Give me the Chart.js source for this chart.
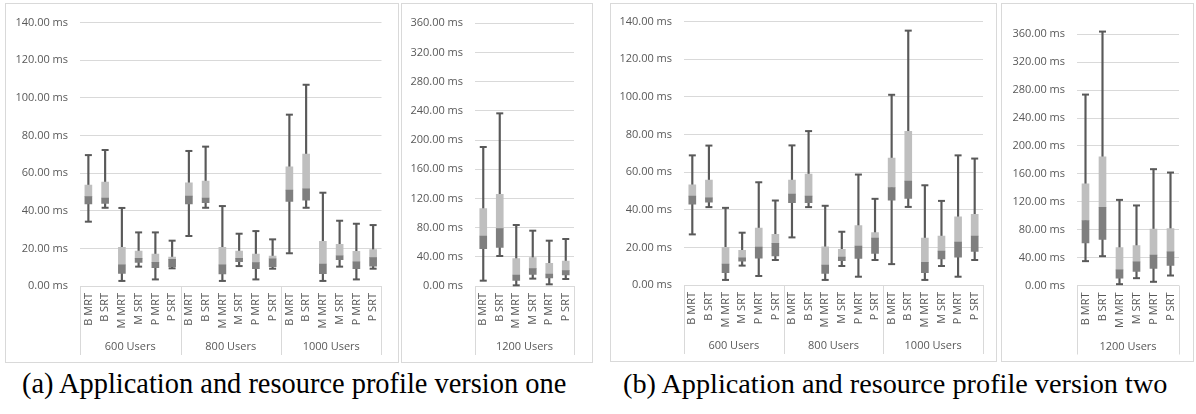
<!DOCTYPE html>
<html><head><meta charset="utf-8">
<script src="https://cdn.jsdelivr.net/npm/chart.js@4.4.1/dist/chart.umd.min.js"></script>
<style>
html,body{margin:0;padding:0;background:#fff;}
body{width:1196px;height:414px;position:relative;overflow:hidden;}
.box{position:absolute;border:1px solid #d9d9d9;box-sizing:border-box;}
canvas{position:absolute;}
.cap{position:absolute;font-family:"Liberation Serif","DejaVu Serif",serif;font-size:24px;line-height:1;color:#000;white-space:nowrap;}
</style></head><body>
<div id="root"></div>
<div class="cap" id="capA">(a) Application and resource profile version one</div>
<div class="cap" id="capB">(b) Application and resource profile version two</div>
<script>
// ---- data ----
const categories = ['B MRT','B SRT','M MRT','M SRT','P MRT','P SRT'];
const groupsMain = ['600 Users','800 Users','1000 Users'];
const groupsLarge = ['1200 Users'];
const ticksMain = [0,20,40,60,80,100,120,140];
const ticksLarge = [0,40,80,120,160,200,240,280,320,360];

// version one, 600/800/1000 users
const v1Max = [69.6,72.3,41.5,28.5,28.5,24.1, 71.8,74.1,42.5,27.8,29.2,24.8, 91.1,107.0,49.6,34.7,33.1,32.4];
const v1Q3  = [53.7,55.3,20.6,18.6,17.0,15.4, 54.8,55.8,20.6,18.6,17.0,15.9, 63.3,70.2,23.7,22.2,18.4,19.3];
const v1Med = [47.5,46.8,11.2,14.7,12.6,14.2, 47.8,46.8,11.2,14.7,12.4,14.5, 51.0,51.7,11.7,16.1,12.8,15.1];
const v1Q1  = [43.6,43.9,6.7,12.6,9.7,10.3, 43.6,44.3,6.4,12.9,9.2,10.3, 45.0,45.7,6.6,14.0,9.2,10.6];
const v1Min = [34.2,41.6,2.7,10.3,3.5,9.4, 26.6,41.6,2.7,10.6,3.5,9.2, 17.4,41.6,2.7,10.3,3.5,9.2];
// version one, 1200 users
const v1LMax = [190.5,236.6,83.6,75.8,62.1,64.4];
const v1LQ3  = [106.0,125.6,37.5,38.8,31.1,34.3];
const v1LMed = [68.5,78.6,15.1,23.8,16.4,21.0];
const v1LQ1  = [51.2,53.0,7.8,16.0,11.0,15.1];
const v1LMin = [7.3,41.1,0.9,10.1,2.3,9.6];
// version two, 600/800/1000 users
const v2Max = [68.9,74.1,41.0,27.8,54.6,44.9, 74.2,81.8,42.1,28.3,58.7,45.8, 101.1,135.2,53.0,44.7,68.9,67.2];
const v2Q3  = [53.2,55.7,20.0,18.4,30.2,26.9, 55.7,58.9,20.3,18.9,31.6,27.9, 67.4,81.7,24.9,26.0,36.2,37.5];
const v2Med = [47.2,46.3,11.1,14.5,20.2,22.1, 48.3,47.2,10.6,14.8,20.7,24.9, 51.8,55.2,12.0,18.0,22.8,26.0];
const v2Q1  = [43.0,44.0,6.5,12.7,14.3,15.4, 43.7,43.7,6.2,12.9,14.1,16.8, 45.1,46.0,6.5,13.8,14.8,17.9];
const v2Min = [26.9,41.4,2.7,10.3,4.8,13.3, 25.3,41.4,2.7,10.1,4.4,13.3, 11.1,41.5,2.7,10.1,4.4,13.3];
// version two, 1200 users
const v2LMax = [273.6,363.9,122.7,114.7,166.7,161.9];
const v2LQ3  = [145.7,184.3,54.4,57.3,80.7,81.7];
const v2LMed = [93.1,112.2,22.4,33.9,43.5,48.2];
const v2LQ1  = [61.1,65.9,10.5,20.1,24.4,28.7];
const v2LMin = [34.9,42.0,1.9,10.5,5.3,14.3];

// ---- drawing ----
const FONT = {family:'"Open Sans", sans-serif', size:11};
const TXT = '#595959';
const GRID = '#d9d9d9';

const groupAxis = {
  id:'groupAxis',
  afterDraw(chart, args, opts){
    const {ctx, chartArea} = chart;
    const x = chart.scales.x;
    const n = categories.length;
    const step = x.getPixelForValue(1) - x.getPixelForValue(0);
    const top = chartArea.bottom, bottom = top + opts.depth;
    ctx.save();
    ctx.strokeStyle = GRID; ctx.lineWidth = 1;
    for (let g = 0; g <= opts.groups.length; g++) {
      const px = Math.round(x.getPixelForValue(g*n) - step/2) + 0.5;
      ctx.beginPath(); ctx.moveTo(px, top); ctx.lineTo(px, bottom); ctx.stroke();
    }
    ctx.fillStyle = TXT;
    ctx.font = FONT.size + 'px ' + FONT.family;
    ctx.textAlign = 'center'; ctx.textBaseline = 'middle';
    opts.groups.forEach((name, g) => {
      const cx = (x.getPixelForValue(g*n) + x.getPixelForValue(g*n + n - 1)) / 2;
      ctx.fillText(name, cx, top + opts.labelOffset);
    });
    ctx.restore();
  }
};

function panel(p){
  const root = document.getElementById('root');
  const box = document.createElement('div');
  box.className = 'box';
  Object.assign(box.style, {left:p.L+'px', top:p.T+'px', width:(p.R-p.L)+'px', height:(p.B-p.T)+'px'});
  root.appendChild(box);
  const cv = document.createElement('canvas');
  cv.width = p.R - p.L; cv.height = p.B - p.T;
  Object.assign(cv.style, {left:p.L+'px', top:p.T+'px', width:cv.width+'px', height:cv.height+'px'});
  root.appendChild(cv);
  const labels = p.groups.flatMap(() => categories);
  const d = p.data;
  new Chart(cv, {
    type:'bar',
    data:{
      labels,
      datasets:[
        {type:'line', data:d.max, showLine:false, pointStyle:'line', pointRadius:3.5, pointHoverRadius:3.5,
         borderWidth:2, pointBorderWidth:2, borderColor:'#595959', order:0, clip:false},
        {type:'line', data:d.min, showLine:false, pointStyle:'line', pointRadius:3.5, pointHoverRadius:3.5,
         borderWidth:2, pointBorderWidth:2, borderColor:'#595959', order:0, clip:false},
        {type:'bar', data:d.q1.map((v,i)=>[v, d.med[i]]), backgroundColor:'#7f7f7f', barThickness:7, grouped:false, order:1},
        {type:'bar', data:d.med.map((v,i)=>[v, d.q3[i]]), backgroundColor:'#bfbfbf', barThickness:7, grouped:false, order:1},
        {type:'bar', data:d.min.map((v,i)=>[v, d.max[i]]), backgroundColor:'#595959', barThickness:1.5, grouped:false, order:2, clip:false}
      ]
    },
    options:{
      responsive:false, animation:false, events:[],
      layout:{padding:{left:0, top:p.cT - p.T, right:p.R - p.cR, bottom:0}},
      plugins:{legend:{display:false}, tooltip:{enabled:false},
        groupAxis:{groups:p.groups, depth:69, labelOffset:61}},
      scales:{
        x:{type:'category', offset:true,
           grid:{display:false, drawTicks:false}, border:{display:false},
           ticks:{autoSkip:false, maxRotation:90, minRotation:90, padding:7, font:FONT, color:TXT},
           afterFit(s){ s.height = p.B - p.cB; }},
        y:{min:0, max:p.ticks[p.ticks.length-1],
           afterBuildTicks(s){ s.ticks = p.ticks.map(v=>({value:v})); },
           grid:{color:GRID, lineWidth:1, drawTicks:false}, border:{display:false},
           ticks:{padding:12, font:FONT, color:TXT, callback:v=>Number(v).toFixed(2)+' ms'},
           afterFit(s){ s.width = p.cL - p.L; }}
      }
    },
    plugins:[groupAxis]
  });
}

panel({L:5, T:3, R:399, B:363, cL:80, cR:381.5, cT:22.7, cB:286, groups:groupsMain, ticks:ticksMain,
  data:{min:v1Min, q1:v1Q1, med:v1Med, q3:v1Q3, max:v1Max}});
panel({L:401, T:3, R:593, B:363, cL:475, cR:574, cT:23.3, cB:286, groups:groupsLarge, ticks:ticksLarge,
  data:{min:v1LMin, q1:v1LQ1, med:v1LMed, q3:v1LQ3, max:v1LMax}});
panel({L:610, T:3, R:997, B:362, cL:684, cR:983, cT:21, cB:285, groups:groupsMain, ticks:ticksMain,
  data:{min:v2Min, q1:v2Q1, med:v2Med, q3:v2Q3, max:v2Max}});
panel({L:1001, T:3, R:1194, B:362, cL:1077, cR:1179, cT:34.3, cB:285.5, groups:groupsLarge, ticks:ticksLarge,
  data:{min:v2LMin, q1:v2LQ1, med:v2LMed, q3:v2LQ3, max:v2LMax}});

// captions: fit to the measured width of the reference captions
(function(){
  const c = document.createElement('canvas').getContext('2d');
  [['capA',22],['capB',623]].forEach(([id,left])=>{
    const el = document.getElementById(id);
    c.font = '24px "Liberation Serif"';
    const w = c.measureText(el.textContent).width;
    const fs = 24 * 546 / w;
    el.style.fontSize = fs + 'px';
    el.style.left = left + 'px';
    el.style.top = (394 - 0.8375*fs) + 'px';
  });
})();
</script>
</body></html>
